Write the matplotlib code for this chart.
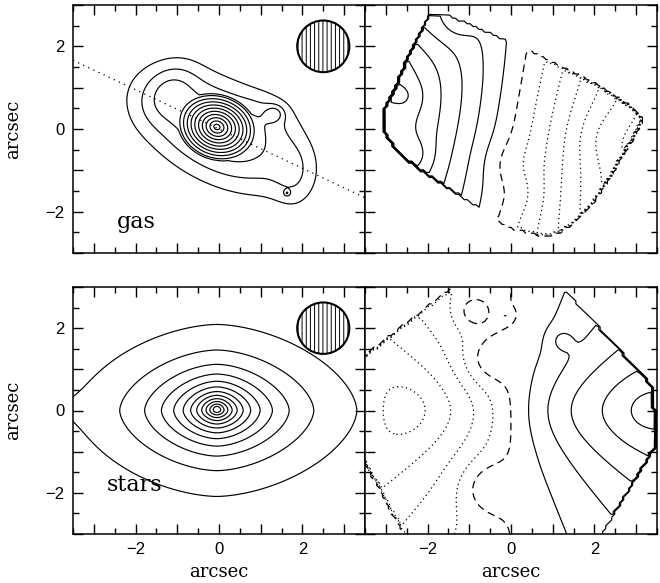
import numpy as np
import matplotlib
matplotlib.use("Agg")
import matplotlib.pyplot as plt
from matplotlib.patches import Circle
from matplotlib.path import Path

plt.rcParams['font.family'] = ['Liberation Sans', 'DejaVu Sans']
plt.rcParams['hatch.linewidth'] = 0.7

# ------------------------------------------------------------------ data
x_limits = [-3.5, 3.5]
y_limits = [-3.0, 3.0]
tick_values = [-2, 0, 2]
axis_label = "arcsec"
panel_labels = ["gas", "stars"]

beam_center = [2.5, 2.0]
beam_fwhm = 1.25
major_axis_slope = -0.475

# gas intensity map: components
gas_cx      = [-0.05, 0.00, -1.20, 1.80, 1.20, 1.33, 1.63]
gas_cy      = [ 0.05, -0.05, 0.95, -1.10, 0.40, 0.37, -1.55]
gas_smaj    = [ 0.95, 1.55,  0.55, 0.60, 0.50, 0.16, 0.05]
gas_smin    = [ 0.80, 0.85,  0.40, 0.35, 0.40, 0.14, 0.05]
gas_pa      = [-20.0, -28.0, 50.0, 90.0, 0.0, 0.0, 0.0]
gas_amp     = [ 5.0, 0.90,  0.30, 0.22, 0.15, 0.35, 0.30]
gas_profile = ["cone", "gauss", "gauss", "gauss", "gauss", "gauss", "gauss"]
gas_levels  = [0.30, 0.50, 0.70, 1.0, 1.5, 2.0, 2.5, 3.0, 3.5, 4.0, 4.5, 5.0, 5.5]

# stellar intensity map
star_cx   = [-0.05, -0.05, -3.45]
star_cy   = [ 0.05,  0.00,  0.05]
star_a    = [ 0.40,  1.50,  0.30]
star_q    = [ 0.88,  0.62,  0.80]
star_c    = [ 2.0,   1.7,   2.0]
star_amp  = [ 0.45,  1.00,  0.04]
star_levels = [0.107, 0.214, 0.321, 0.428, 0.535, 0.642, 0.75, 0.856, 0.963,
               1.07, 1.18, 1.29]

# gas velocity field (field of view polygon + disc model + local bumps)
gas_fov_x = [-1.97, -1.43, -0.76, 0.04, 0.76, 1.48, 2.20, 2.76, 3.12, 3.00, 2.68, 2.36,
             2.04, 1.64, 1.20, 0.76, 0.36, 0.04, -0.44, -1.00, -1.47, -2.03, -2.59,
             -2.91, -3.07, -3.07, -2.87, -2.67, -2.47, -2.23, -2.07]
gas_fov_y = [2.74, 2.74, 2.42, 2.10, 1.69, 1.33, 0.97, 0.60, 0.24, -0.08, -0.61, -1.17,
             -1.66, -2.14, -2.46, -2.58, -2.46, -2.40, -2.10, -1.78, -1.45, -1.09, -0.69,
             -0.28, -0.04, 0.36, 0.81, 1.25, 1.73, 2.22, 2.54]
gas_disc = dict(xc=0.05, yc=0.0, theta=170.0, v0=14.0, rc=6.0, q=0.7, vsys=0.0)
gas_bump_x   = [-2.20, -1.28, -2.51, -2.31, -3.50, 2.20, -0.20, 0.30]
gas_bump_y   = [ 3.10,  2.60,  0.80, -0.65,  0.20, -0.20, -0.80, -1.60]
gas_bump_s   = [ 0.90,  0.30,  0.25,  0.30,  0.50, 0.50, 0.40, 0.40]
gas_bump_amp = [-2.5,  -0.8,   0.6,   0.8,  -1.2, -0.6, -0.4, 0.4]
gas_vel_levels = list(range(-6, 8))

# stellar velocity field
star_fov_x = [-0.99, 0.98, 3.42, 3.45, 2.00, -2.38, -3.70, -3.70]
star_fov_y = [3.30, 3.30, 0.55, -0.90, -3.30, -3.30, -0.86, 1.15]
star_disc = dict(xc=0.0, yc=0.0, theta=0.0, v0=6.0, rc=2.5, q=0.4, vsys=0.0)
star_bump_x   = [-2.55, -3.70, 3.20, 1.20, -0.95, -0.12, -0.60, -0.60]
star_bump_y   = [ 0.00,  0.00, 0.00, 1.71,  2.40,  2.32,  1.20, -1.85]
star_bump_s   = [ 0.35,  0.60, 0.45, 0.20,  0.30,  0.12,  0.45,  0.45]
star_bump_amp = [-0.6,   1.5,  0.6,  0.9,   1.2,  -1.0,   1.3,   1.3]
star_vel_levels = list(range(-5, 7))

# ------------------------------------------------------------------ helpers
def rot(x, y, x0, y0, pa):
    t = np.deg2rad(pa)
    dx, dy = x - x0, y - y0
    return dx * np.cos(t) + dy * np.sin(t), -dx * np.sin(t) + dy * np.cos(t)

def gas_map(x, y):
    z = np.zeros_like(x)
    for cx, cy, a, b, pa, amp, prof in zip(gas_cx, gas_cy, gas_smaj, gas_smin,
                                            gas_pa, gas_amp, gas_profile):
        u, v = rot(x, y, cx, cy, pa)
        if prof == "cone":
            r = np.hypot(u / a, v / b)
            z += amp * np.clip(1 - r, 0, None)
        else:
            z += amp * np.exp(-0.5 * ((u / a) ** 2 + (v / b) ** 2))
    return z

def star_map(x, y):
    z = np.zeros_like(x)
    for cx, cy, a, q, c, amp in zip(star_cx, star_cy, star_a, star_q, star_c, star_amp):
        r = (np.abs(x - cx) ** c + np.abs((y - cy) / q) ** c) ** (1.0 / c)
        z += amp * np.exp(-r / a)
    return z

def vel_map(x, y, disc, bx, by, bs, ba, fx, fy):
    s, t = rot(x, y, disc['xc'], disc['yc'], disc['theta'])
    v = disc['vsys'] + disc['v0'] * s / np.sqrt(s ** 2 + (t / disc['q']) ** 2 + disc['rc'] ** 2)
    for x0, y0, s0, a0 in zip(bx, by, bs, ba):
        v += a0 * np.exp(-0.5 * ((x - x0) ** 2 + (y - y0) ** 2) / s0 ** 2)
    inside = Path(np.column_stack([fx, fy])).contains_points(
        np.column_stack([x.ravel(), y.ravel()])).reshape(x.shape)
    return np.where(inside, v, 0.001)

def draw_vel(ax, X, Y, V, levels):
    pos = [l for l in levels if l > 0]
    neg = [l for l in levels if l < 0]
    ax.contour(X, Y, V, levels=pos, colors='k', linewidths=0.85, linestyles='solid')
    ax.contour(X, Y, V, levels=neg, colors='k', linewidths=0.9,
               linestyles=[(0, (1.0, 2.6))])
    ax.contour(X, Y, V, levels=[0], colors='k', linewidths=0.9,
               linestyles=[(0, (6.0, 4.0))])

def fmt(v, p):
    if v in tick_values:
        return '\u2212%d' % abs(v) if v < 0 else '%d' % v
    return ''

def style(ax, left_labels, bottom_labels):
    ax.set_xlim(x_limits)
    ax.set_ylim(y_limits)
    ax.set_xticks(np.arange(-3, 4, 1))
    ax.set_yticks(np.arange(-3, 4, 1))
    ax.set_xticks(np.arange(-3.5, 3.6, 0.5), minor=True)
    ax.set_yticks(np.arange(-3.0, 3.1, 0.5), minor=True)
    ax.xaxis.set_major_formatter(plt.FuncFormatter(fmt))
    ax.yaxis.set_major_formatter(plt.FuncFormatter(fmt))
    ax.tick_params(which='both', direction='in', top=True, right=True,
                   labelleft=left_labels, labelbottom=bottom_labels, labelsize=12,
                   width=1.0)
    ax.tick_params(which='major', length=7.5, pad=6)
    ax.tick_params(which='minor', length=4.5)
    for sp in ax.spines.values():
        sp.set_linewidth(1.1)
    if left_labels:
        ax.set_ylabel(axis_label, family='DejaVu Serif', fontsize=13, labelpad=17)
    if bottom_labels:
        ax.set_xlabel(axis_label, family='DejaVu Serif', fontsize=13, labelpad=4)

def beam(ax):
    ax.add_patch(Circle(beam_center, beam_fwhm / 2, facecolor='white', edgecolor='k',
                        linewidth=1.5, hatch='||||', zorder=5))

# ------------------------------------------------------------------ figure
fig = plt.figure(figsize=(6.6, 5.83), dpi=100)
L, R = 73 / 660, 365 / 660
W = 292 / 660
axA = fig.add_axes([L, 1 - 253 / 583, W, 248 / 583])
axB = fig.add_axes([R, 1 - 253 / 583, W, 248 / 583])
axC = fig.add_axes([L, 1 - 534 / 583, W, 247 / 583])
axD = fig.add_axes([R, 1 - 534 / 583, W, 247 / 583])

xf = np.linspace(-3.6, 3.6, 361)
yf = np.linspace(-3.1, 3.1, 311)
XF, YF = np.meshgrid(xf, yf)

# gas intensity
axA.contour(XF, YF, gas_map(XF, YF), levels=gas_levels, colors='k', linewidths=0.85)
axA.axline((0, 0), slope=major_axis_slope, color='k', linewidth=0.9,
           linestyle=(0, (1.0, 3.5)))
beam(axA)
axA.text(-2.45, -2.25, panel_labels[0], family='DejaVu Serif', fontsize=16,
         ha='left', va='center')

# stars intensity
axC.contour(XF, YF, star_map(XF, YF), levels=star_levels, colors='k', linewidths=0.85)
beam(axC)
axC.text(-2.70, -1.80, panel_labels[1], family='DejaVu Serif', fontsize=16,
         ha='left', va='center')

# velocity fields on a coarser pixel grid
xv = np.arange(-3.64, 3.65, 0.07)
yv = np.arange(-3.15, 3.16, 0.07)
XV, YV = np.meshgrid(xv, yv)
VG = vel_map(XV, YV, gas_disc, gas_bump_x, gas_bump_y, gas_bump_s, gas_bump_amp,
             gas_fov_x, gas_fov_y)
draw_vel(axB, XV, YV, VG, gas_vel_levels)
VS = vel_map(XV, YV, star_disc, star_bump_x, star_bump_y, star_bump_s, star_bump_amp,
             star_fov_x, star_fov_y)
draw_vel(axD, XV, YV, VS, star_vel_levels)

style(axA, True, False)
style(axB, False, False)
style(axC, True, True)
style(axD, False, True)

fig.savefig("out.png", dpi=100)
